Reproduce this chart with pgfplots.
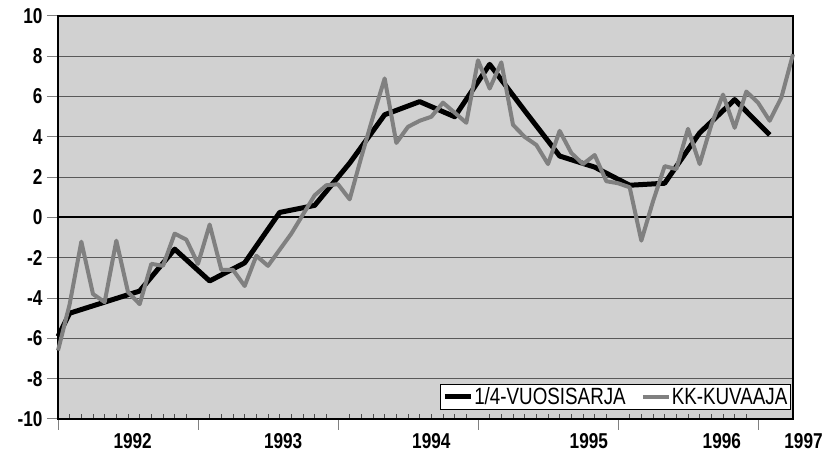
\documentclass[border=0pt]{standalone}
\usepackage{fontspec}
\setmainfont{Liberation Sans}[FakeStretch=0.8]
\newfontfamily\legfont{Liberation Sans}[FakeStretch=0.8]
\usepackage{pgfplots}
\pgfplotsset{compat=1.18}
\begin{document}
\begin{tikzpicture}[x=1pt,y=1pt]
\useasboundingbox (0,0) rectangle (837,454);
\begin{axis}[
  at={(58pt,35pt)}, anchor=south west,
  width=735pt, height=403pt, scale only axis,
  xmin=0, xmax=63, ymin=-10, ymax=10,
  axis background/.style={fill=black!18},
  axis line style={line width=1.3pt},
  font=\fontsize{21.5}{24}\selectfont,
  ytick={-10,-8,...,10},
  yticklabels={-10,-8,-6,-4,-2,0,2,4,6,8,10},
  yticklabel style={font=\fontsize{21.5}{24}\selectfont\bfseries, xshift=-1pt},
  ymajorgrids, grid style={black!65, line width=0.9pt},
  tick align=outside,
  ytick style={line width=1pt},
  major tick length=11pt,
  xtick={0,12,...,60},
  xticklabels={},
  minor x tick num=11,
  minor tick length=-4.5pt,
  xtick style={line width=1pt},
  minor tick style={black!70,line width=0.8pt},
  extra x ticks={6.4,19.3,32.0,45.5,56.9},
  extra x tick labels={1992,1993,1994,1995,1996},
  extra x tick style={major tick length=0pt, xmajorgrids=false, tick style={draw=none},
     xticklabel style={font=\fontsize{21.5}{24}\selectfont\bfseries, yshift=-11pt}},
  xtick pos=bottom, ytick pos=left,
  clip=false,
  legend columns=2,
  legend style={at={(0.997,0.022)}, anchor=south east, draw=black, line width=0.8pt,
     fill=white, font=\legfont\fontsize{23.5}{26}\selectfont, inner xsep=2pt, inner ysep=1.5pt,
     nodes={inner xsep=1pt},
     /tikz/every even column/.append style={column sep=14pt}},
  legend image code/.code={\draw[#1] (0pt,0pt) -- (26pt,0pt);},
]
\addplot[black, line width=2pt, forget plot] coordinates {(0,0) (63,0)};
\addplot[black, line width=5pt, line join=round] coordinates {
(0,-5.9) (1,-4.75) (4,-4.2) (7,-3.65) (10,-1.57) (13,-3.15) (16,-2.25)
(19,0.25) (22,0.6) (25,2.7) (28,5.1) (31,5.75) (34,5.0) (37,7.6) (40,5.3)
(43,3.05) (46,2.5) (49,1.6) (52,1.7) (55,4.2) (58,5.85) (61,4.1)};
\addlegendentry{1/4-VUOSISARJA}
\addplot[black!50, line width=4pt, line join=round] coordinates {
(0,-6.6) (1,-4.3) (2,-1.2) (3,-3.8) (4,-4.2) (5,-1.15) (6,-3.7) (7,-4.3)
(8,-2.3) (9,-2.4) (10,-0.8) (11,-1.1) (12,-2.3) (13,-0.35) (14,-2.6) (15,-2.6)
(16,-3.4) (17,-1.9) (18,-2.4) (19,-1.6) (20,-0.8) (21,0.15) (22,1.1) (23,1.6)
(24,1.65) (25,0.9) (26,3.0) (27,5.0) (28,6.9) (29,3.7) (30,4.5) (31,4.8)
(32,5.0) (33,5.7) (34,5.2) (35,4.7) (36,7.8) (37,6.4) (38,7.7) (39,4.6)
(40,4.0) (41,3.6) (42,2.65) (43,4.3) (44,3.2) (45,2.65) (46,3.1) (47,1.8)
(48,1.7) (49,1.5) (50,-1.15) (51,0.8) (52,2.55) (53,2.4) (54,4.4) (55,2.65)
(56,4.6) (57,6.1) (58,4.45) (59,6.25) (60,5.7) (61,4.8) (62,5.95) (63,8.1)};
\addlegendentry{KK-KUVAAJA}
\node[font=\fontsize{21.5}{24}\selectfont\bfseries, anchor=north, inner sep=0pt]
  at (axis cs:63.9,-10) [yshift=-14pt] {1997};
\end{axis}
\end{tikzpicture}
\end{document}
